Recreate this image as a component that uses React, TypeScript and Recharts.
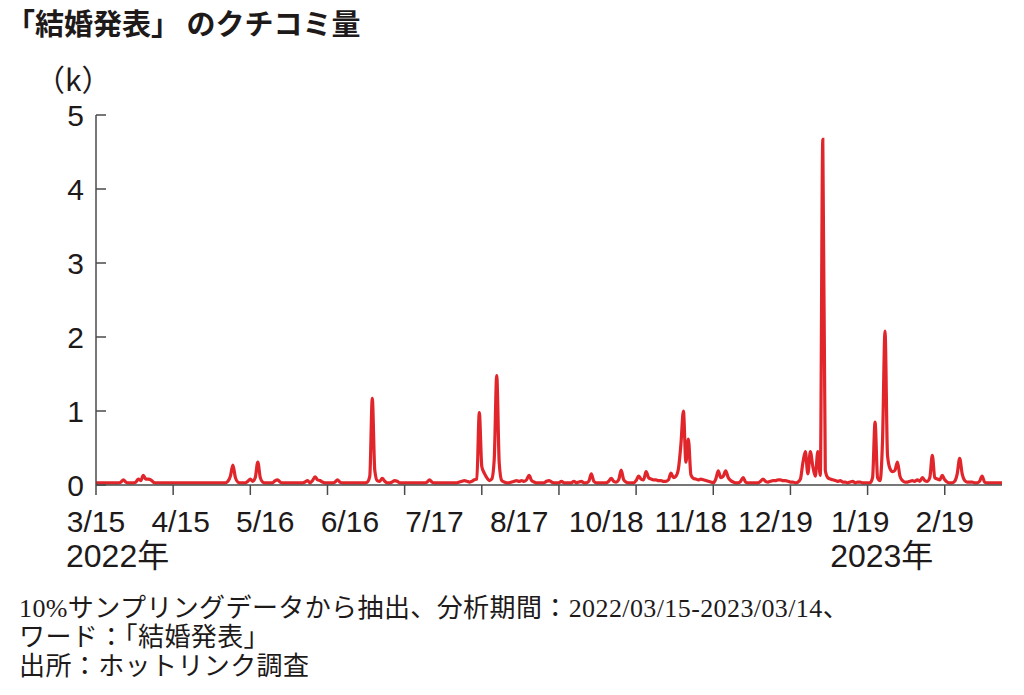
import React from 'react';
import { LineChart, Line, XAxis, YAxis } from 'recharts';

// Daily values (k) from 2022/03/15 (day 0) to 2023/03/14 (day 364)
const VALUES: number[] = [
  0.03, 0.03, 0.03, 0.03, 0.03, 0.03, 0.03, 0.03, 0.03, 0.03, // 0
  0.04, 0.07, 0.04, 0.03, 0.03, 0.03, 0.04, 0.08, 0.06, 0.13, // 10
  0.08, 0.08, 0.07, 0.04, 0.03, 0.03, 0.03, 0.03, 0.03, 0.03, // 20
  0.03, 0.03, 0.03, 0.03, 0.03, 0.03, 0.03, 0.03, 0.03, 0.03, // 30
  0.03, 0.03, 0.03, 0.03, 0.03, 0.03, 0.03, 0.03, 0.03, 0.03, // 40
  0.03, 0.03, 0.03, 0.05, 0.12, 0.27, 0.1, 0.04, 0.03, 0.03, // 50
  0.03, 0.05, 0.08, 0.05, 0.1, 0.31, 0.1, 0.04, 0.03, 0.03, // 60
  0.03, 0.03, 0.06, 0.07, 0.04, 0.03, 0.03, 0.03, 0.03, 0.03, // 70
  0.03, 0.03, 0.03, 0.03, 0.04, 0.06, 0.03, 0.06, 0.11, 0.07, // 80
  0.06, 0.04, 0.03, 0.03, 0.03, 0.03, 0.04, 0.07, 0.04, 0.03, // 90
  0.03, 0.03, 0.03, 0.03, 0.03, 0.03, 0.03, 0.03, 0.03, 0.04, // 100
  0.12, 1.17, 0.2, 0.06, 0.05, 0.09, 0.05, 0.03, 0.03, 0.04, // 110
  0.06, 0.05, 0.03, 0.03, 0.03, 0.03, 0.03, 0.03, 0.03, 0.03, // 120
  0.03, 0.03, 0.03, 0.04, 0.07, 0.04, 0.03, 0.03, 0.03, 0.03, // 130
  0.03, 0.03, 0.03, 0.03, 0.03, 0.03, 0.04, 0.05, 0.06, 0.05, // 140
  0.04, 0.05, 0.07, 0.08, 0.98, 0.25, 0.16, 0.1, 0.06, 0.08, // 150
  0.35, 1.48, 0.3, 0.06, 0.04, 0.03, 0.03, 0.04, 0.05, 0.06, // 160
  0.05, 0.06, 0.05, 0.07, 0.13, 0.06, 0.04, 0.03, 0.03, 0.03, // 170
  0.03, 0.05, 0.06, 0.04, 0.03, 0.03, 0.03, 0.05, 0.03, 0.03, // 180
  0.03, 0.03, 0.05, 0.03, 0.04, 0.05, 0.03, 0.03, 0.05, 0.15, // 190
  0.05, 0.03, 0.03, 0.03, 0.03, 0.03, 0.05, 0.09, 0.05, 0.04, // 200
  0.07, 0.2, 0.07, 0.04, 0.03, 0.03, 0.03, 0.06, 0.12, 0.08, // 210
  0.07, 0.18, 0.1, 0.08, 0.07, 0.07, 0.06, 0.06, 0.05, 0.05, // 220
  0.07, 0.16, 0.1, 0.12, 0.22, 0.55, 1.0, 0.31, 0.62, 0.14, // 230
  0.09, 0.08, 0.07, 0.08, 0.07, 0.06, 0.05, 0.04, 0.03, 0.08, // 240
  0.19, 0.1, 0.12, 0.19, 0.1, 0.06, 0.04, 0.03, 0.03, 0.05, // 250
  0.1, 0.04, 0.03, 0.03, 0.03, 0.03, 0.03, 0.05, 0.08, 0.05, // 260
  0.04, 0.05, 0.06, 0.06, 0.07, 0.07, 0.06, 0.06, 0.05, 0.04, // 270
  0.04, 0.03, 0.04, 0.08, 0.3, 0.45, 0.15, 0.45, 0.25, 0.12, // 280
  0.45, 0.13, 4.67, 0.2, 0.1, 0.08, 0.07, 0.06, 0.05, 0.06, // 290
  0.04, 0.04, 0.03, 0.04, 0.05, 0.03, 0.04, 0.04, 0.03, 0.03, // 300
  0.03, 0.03, 0.1, 0.85, 0.1, 0.06, 0.6, 2.08, 0.4, 0.22, // 310
  0.18, 0.2, 0.31, 0.12, 0.06, 0.04, 0.04, 0.05, 0.06, 0.05, // 320
  0.07, 0.05, 0.1, 0.06, 0.05, 0.1, 0.4, 0.1, 0.08, 0.07, // 330
  0.13, 0.07, 0.04, 0.03, 0.03, 0.05, 0.15, 0.36, 0.15, 0.06, // 340
  0.04, 0.04, 0.04, 0.03, 0.03, 0.05, 0.12, 0.04, 0.03, 0.03, // 350
  0.03, 0.03, 0.03, 0.03, 0.03, // 360
];

// Tick marks (day index) : 3/15 4/15 5/16 6/16 7/17 8/17 9/17 10/18 11/18 12/19 1/19 2/19
const TICK_DAYS = [0, 31, 62, 93, 124, 155, 186, 217, 248, 279, 310, 341];
// Tick labels and where they are placed (day index)
const LABELS = ['3/15', '4/15', '5/16', '6/16', '7/17', '8/17', '10/18', '11/18', '12/19', '1/19', '2/19'];
const LABEL_DAYS = [0, 34, 68, 102, 136, 170, 205, 239, 273, 307, 341];
const YEAR_LABELS: Record<number, string> = { 0: '2022年', 307: '2023年' };
const Y_TICKS = [0, 1, 2, 3, 4, 5];

const TITLE = '「結婚発表」 のクチコミ量';
const UNIT = '（k）';
const NOTES = [
  '10%サンプリングデータから抽出、分析期間：2022/03/15-2023/03/14、',
  'ワード：「結婚発表」',
  '出所：ホットリンク調査',
];

const DATA = VALUES.map((v, i) => ({ d: i, v }));

const AXIS_COLOR = '#4a4a4a';
const TEXT_COLOR = '#1e1a1a';
const LINE_COLOR = '#e0252b';
const SANS = '"Liberation Sans", Arial, "Noto Sans CJK JP", sans-serif';

const YTick = (props: any) => {
  const { x, y, payload } = props;
  return (
    <g>
      <line x1={x + 12} x2={x + 22} y1={y} y2={y} stroke={AXIS_COLOR} strokeWidth={1.5} />
      <text x={x} y={y} dy="0.36em" textAnchor="end" fontSize={30} fontFamily={SANS} fill={TEXT_COLOR}>
        {payload.value}
      </text>
    </g>
  );
};

const XLabelTick = (props: any) => {
  const { x, y, payload } = props;
  const idx = LABEL_DAYS.indexOf(payload.value);
  const label = LABELS[idx];
  const year = YEAR_LABELS[payload.value];
  return (
    <g>
      <text x={x} y={y + 37} textAnchor="middle" fontSize={30} fontFamily={SANS} fill={TEXT_COLOR}>
        {label}
      </text>
      {year && (
        <text x={x - 30} y={y + 72} textAnchor="start" fontSize={32} fontFamily={SANS} fill={TEXT_COLOR}>
          {year}
        </text>
      )}
    </g>
  );
};

const EmptyTick = () => <g />;

export default function App() {
  return (
    <div
      style={{
        position: 'absolute',
        left: 0,
        top: 0,
        width: 1024,
        height: 695,
        background: '#fff',
        overflow: 'hidden',
      }}
    >
      <div
        style={{
          position: 'absolute',
          left: 6,
          top: 7,
          fontFamily: '"Noto Sans CJK JP", sans-serif',
          fontWeight: 700,
          fontSize: 29,
          lineHeight: '30px',
          color: TEXT_COLOR,
          whiteSpace: 'pre',
        }}
      >
        {TITLE}
      </div>
      <div
        style={{
          position: 'absolute',
          left: 35,
          top: 62,
          fontFamily: '"Noto Sans CJK JP", sans-serif',
          fontSize: 30,
          lineHeight: '32px',
          color: TEXT_COLOR,
          whiteSpace: 'nowrap',
        }}
      >
        {UNIT}
      </div>
      <div style={{ position: 'absolute', left: 0, top: 0 }}>
        <LineChart
          width={1024}
          height={580}
          data={DATA}
          margin={{ top: 115, right: 22, left: 36, bottom: 0 }}
        >
          <XAxis
            dataKey="d"
            type="number"
            domain={[0, 364]}
            ticks={TICK_DAYS}
            interval={0}
            height={10}
            axisLine={{ stroke: AXIS_COLOR, strokeWidth: 1.5 }}
            tickLine={{ stroke: AXIS_COLOR, strokeWidth: 1.5 }}
            tickSize={10}
            tick={EmptyTick}
          />
          <XAxis
            xAxisId="lbl"
            dataKey="d"
            type="number"
            domain={[0, 364]}
            ticks={LABEL_DAYS}
            interval={0}
            height={85}
            axisLine={false}
            tickLine={false}
            tickSize={0}
            tickMargin={0}
            tick={XLabelTick}
          />
          <YAxis
            type="number"
            domain={[0, 5]}
            ticks={Y_TICKS}
            interval={0}
            width={60}
            axisLine={{ stroke: AXIS_COLOR, strokeWidth: 1.5 }}
            tickLine={false}
            tickSize={0}
            tickMargin={12}
            tick={YTick}
          />
          <Line
            dataKey="v"
            type="monotone"
            stroke={LINE_COLOR}
            strokeWidth={3.2}
            dot={false}
            isAnimationActive={false}
          />
        </LineChart>
      </div>
      <div
        style={{
          position: 'absolute',
          left: 19,
          top: 594,
          fontFamily: '"Liberation Serif", "Times New Roman", "Noto Sans CJK JP", serif',
          fontSize: 26,
          lineHeight: '29px',
          letterSpacing: '0.4px',
          color: TEXT_COLOR,
          whiteSpace: 'nowrap',
        }}
      >
        {NOTES.map((n, i) => (
          <div key={i}>{n}</div>
        ))}
      </div>
    </div>
  );
}
